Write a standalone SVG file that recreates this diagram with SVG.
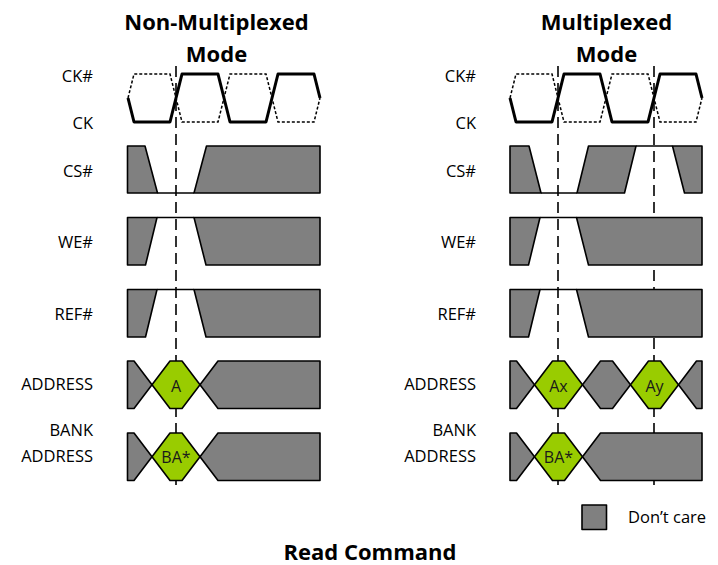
<svg xmlns="http://www.w3.org/2000/svg" width="718" height="565" viewBox="0 0 718 565">
<style>
.t{font-family:"Open Sans","Noto Sans","Liberation Sans",sans-serif;fill:#000}
.ttl{font-size:22px;font-weight:bold;text-anchor:middle}
.lbl{font-size:16.5px;text-anchor:end}
.hx{font-size:16px;text-anchor:middle;fill:#1a1a1a}
.dc{fill:#808080;stroke:#000;stroke-width:1.6;stroke-linejoin:round}
.gr{fill:#99CC00;stroke:#000;stroke-width:1.6;stroke-linejoin:round}
.ln{fill:none;stroke:#000;stroke-width:1.6}
.ck{fill:none;stroke:#000;stroke-width:3;stroke-linejoin:round}
.ckn{fill:none;stroke:#000;stroke-width:1.5;stroke-dasharray:3 2}
.ref{fill:none;stroke:#000;stroke-width:1.6;stroke-dasharray:11 6}
</style>
<rect width="718" height="565" fill="#fff"/>

<g id="connectors">
<line class="ref" x1="176" y1="66" x2="176" y2="487"/>
<line class="ref" x1="558" y1="66" x2="558" y2="487"/>
<line class="ref" x1="654" y1="66" x2="654" y2="487"/>
</g>

<g id="title-left">
<text class="t ttl" x="216.5" y="30">Non-Multiplexed</text>
<text class="t ttl" x="216.5" y="61.5">Mode</text>
</g>
<g id="title-right">
<text class="t ttl" x="606.5" y="30">Multiplexed</text>
<text class="t ttl" x="606.5" y="61.5">Mode</text>
</g>

<g id="labels-left">
<text class="t lbl" x="93" y="81.5">CK#</text>
<text class="t lbl" x="93" y="128.5">CK</text>
<text class="t lbl" x="93" y="176.5">CS#</text>
<text class="t lbl" x="93" y="247.5">WE#</text>
<text class="t lbl" x="93" y="319.5">REF#</text>
<text class="t lbl" x="93" y="390">ADDRESS</text>
<text class="t lbl" x="93" y="436">BANK</text>
<text class="t lbl" x="93" y="461.5">ADDRESS</text>
</g>
<g id="labels-right">
<text class="t lbl" x="476" y="81.5">CK#</text>
<text class="t lbl" x="476" y="128.5">CK</text>
<text class="t lbl" x="476" y="176.5">CS#</text>
<text class="t lbl" x="476" y="247.5">WE#</text>
<text class="t lbl" x="476" y="319.5">REF#</text>
<text class="t lbl" x="476" y="390">ADDRESS</text>
<text class="t lbl" x="476" y="436">BANK</text>
<text class="t lbl" x="476" y="461.5">ADDRESS</text>
</g>

<g id="clock-left">
<path class="ckn" d="M128,98 L134,74 L170,74 L182,122 L218,122 L230,74 L266,74 L278,122 L314,122 L320,98"/>
<path class="ck" d="M128,98 L134,122 L170,122 L182,74 L218,74 L230,122 L266,122 L278,74 L314,74 L320,98"/>
</g>
<g id="clock-right">
<path class="ckn" d="M510,98 L516,74 L552,74 L564,122 L600,122 L612,74 L648,74 L660,122 L696,122 L702,98"/>
<path class="ck" d="M510,98 L516,122 L552,122 L564,74 L600,74 L612,122 L648,122 L660,74 L696,74 L702,98"/>
</g>

<g id="cs-left">
<polygon class="dc" points="127.5,146 145,146 157.5,193 127.5,193"/>
<line class="ln" x1="157.5" y1="193" x2="194" y2="193"/>
<polygon class="dc" points="194,193 206.5,146 320,146 320,193"/>
</g>
<g id="we-left">
<polygon class="dc" points="127.5,217.5 157,217.5 145.5,265 127.5,265"/>
<line class="ln" x1="157" y1="217.5" x2="194" y2="217.5"/>
<polygon class="dc" points="194,217.5 320,217.5 320,265 206,265"/>
</g>
<g id="ref-left">
<polygon class="dc" points="127.5,289.5 157,289.5 145.5,337 127.5,337"/>
<line class="ln" x1="157" y1="289.5" x2="194" y2="289.5"/>
<polygon class="dc" points="194,289.5 320,289.5 320,337 206,337"/>
</g>
<g id="addr-left">
<polygon class="dc" points="127.5,361 134,361 152,384.75 134,408.5 127.5,408.5"/>
<polygon class="gr" points="152,384.75 170,361 182,361 200,384.75 182,408.5 170,408.5"/>
<polygon class="dc" points="200,384.75 218,361 320,361 320,408.5 218,408.5"/>
<text class="t hx" x="176" y="391.5">A</text>
</g>
<g id="bank-left">
<polygon class="dc" points="127.5,433 134,433 152,456.75 134,480.5 127.5,480.5"/>
<polygon class="gr" points="152,456.75 170,433 182,433 200,456.75 182,480.5 170,480.5"/>
<polygon class="dc" points="200,456.75 218,433 320,433 320,480.5 218,480.5"/>
<text class="t hx" x="176" y="462.5">BA*</text>
</g>

<g id="cs-right">
<polygon class="dc" points="510,146 529,146 541,193 510,193"/>
<line class="ln" x1="541" y1="193" x2="577" y2="193"/>
<polygon class="dc" points="577,193 588.5,146 636,146 624.5,193"/>
<line class="ln" x1="636" y1="146" x2="672.5" y2="146"/>
<polygon class="dc" points="672.5,146 702,146 702,193 684.5,193"/>
</g>
<g id="we-right">
<polygon class="dc" points="510,217.5 540,217.5 528.5,265 510,265"/>
<line class="ln" x1="540" y1="217.5" x2="576.5" y2="217.5"/>
<polygon class="dc" points="576.5,217.5 702,217.5 702,265 588.5,265"/>
</g>
<g id="ref-right">
<polygon class="dc" points="510,289.5 540,289.5 528.5,337 510,337"/>
<line class="ln" x1="540" y1="289.5" x2="576.5" y2="289.5"/>
<polygon class="dc" points="576.5,289.5 702,289.5 702,337 588.5,337"/>
</g>
<g id="addr-right">
<polygon class="dc" points="510,361 516.5,361 534.5,384.75 516.5,408.5 510,408.5"/>
<polygon class="gr" points="534.5,384.75 552.5,361 564.5,361 582.5,384.75 564.5,408.5 552.5,408.5"/>
<polygon class="dc" points="582.5,384.75 600.5,361 612.5,361 630.5,384.75 612.5,408.5 600.5,408.5"/>
<polygon class="gr" points="630.5,384.75 648.5,361 660.5,361 678.5,384.75 660.5,408.5 648.5,408.5"/>
<polygon class="dc" points="678.5,384.75 696.5,361 702,361 702,408.5 696.5,408.5"/>
<text class="t hx" x="558.5" y="391.5">Ax</text>
<text class="t hx" x="654.5" y="391.5">Ay</text>
</g>
<g id="bank-right">
<polygon class="dc" points="510,433 516.5,433 534.5,456.75 516.5,480.5 510,480.5"/>
<polygon class="gr" points="534.5,456.75 552.5,433 564.5,433 582.5,456.75 564.5,480.5 552.5,480.5"/>
<polygon class="dc" points="582.5,456.75 600.5,433 702,433 702,480.5 600.5,480.5"/>
<text class="t hx" x="558.5" y="462.5">BA*</text>
</g>

<g id="legend">
<rect class="dc" x="582" y="505" width="24.5" height="24.5"/>
<text class="t" x="628" y="523" font-size="16.5">Don’t care</text>
</g>

<g id="caption">
<text class="t ttl" x="370" y="560">Read Command</text>
</g>
</svg>
